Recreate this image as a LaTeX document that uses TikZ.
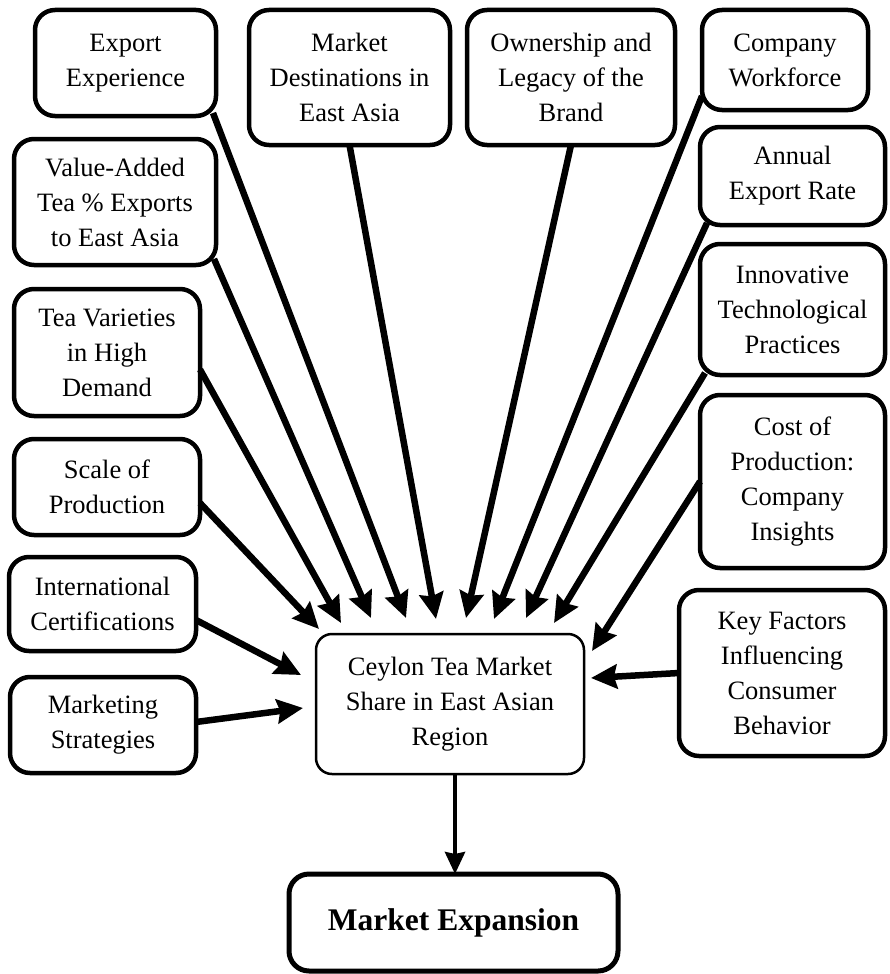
\documentclass[tikz,border=0pt]{standalone}
\usepackage{fontspec}
\setmainfont{Liberation Serif}
\usepackage{tikz}
\usetikzlibrary{arrows.meta, calc, positioning}

\begin{document}
\begin{tikzpicture}[
  x=1pt, y=-1pt,
  every node/.style={align=center, font=\fontsize{26.5}{35}\selectfont, outer sep=0pt},
  factor/.style={draw, line width=4.5pt, rounded corners=20pt},
  share/.style={draw, line width=2.5pt, rounded corners=16pt},
  goal/.style={draw, line width=5pt, rounded corners=20pt, font=\fontsize{31.5}{38}\selectfont\bfseries},
  feed/.style={line width=6.5pt, -{Stealth[length=26pt, width=24pt, inset=3pt]}},
  lead/.style={line width=4pt, -{Stealth[length=22pt, width=20pt, inset=2pt]}}
]
\useasboundingbox (0,0) rectangle (890,974);

% Top row
\node[factor, minimum width=181pt, minimum height=106pt] (exp) at (125.5,63) {Export\\Experience};
\node[factor, minimum width=201pt, minimum height=135pt] (mkt) at (349.5,77.5) {Market\\Destinations in\\East Asia};
\node[factor, minimum width=208pt, minimum height=135pt] (own) at (571,77.5) {Ownership and\\Legacy of the\\Brand};
\node[factor, minimum width=166pt, minimum height=100pt] (wrk) at (785,60) {Company\\Workforce};

% Left column
\node[factor, minimum width=202pt, minimum height=126pt] (val) at (115,202) {Value-Added\\Tea \% Exports\\to East Asia};
\node[factor, minimum width=186pt, minimum height=127pt] (var) at (107,352.5) {Tea Varieties\\in High\\Demand};
\node[factor, minimum width=186pt, minimum height=96pt] (scl) at (107,487) {Scale of\\Production};
\node[factor, minimum width=187pt, minimum height=94pt] (intl) at (102.5,604) {International\\Certifications};
\node[factor, minimum width=186pt, minimum height=96pt] (mrk) at (103,725) {Marketing\\Strategies};

% Right column
\node[factor, minimum width=185pt, minimum height=98pt] (ann) at (792.5,176) {Annual\\Export Rate};
\node[factor, minimum width=185pt, minimum height=131pt] (inn) at (792.5,309.5) {Innovative\\Technological\\Practices};
\node[factor, minimum width=185pt, minimum height=173pt] (cost) at (792.5,481.5) {Cost of\\Production:\\Company\\Insights};
\node[factor, minimum width=206pt, minimum height=166pt] (key) at (782,673) {Key Factors\\Influencing\\Consumer\\Behavior};

% Centre and result
\node[share, minimum width=268pt, minimum height=140pt] (ctr) at (450,704) {Ceylon Tea Market\\Share in East Asian\\Region};
\node[goal, minimum width=329pt, minimum height=97pt] (exn) at (453.5,922.5) {Market Expansion};

% Arrows into the centre
\draw[feed] ([yshift=-16pt]scl.east) -- ([xshift=3pt, yshift=5pt]ctr.north west);
\draw[feed] ([yshift=-17pt]var.east) -- ([xshift=25pt, yshift=11pt]ctr.north west);
\draw[feed] ([xshift=-2pt, yshift=6pt]val.south east) -- ([xshift=55pt, yshift=16pt]ctr.north west);
\draw[feed] ([xshift=-3pt, yshift=3pt]exp.south east) -- ([xshift=90pt, yshift=16pt]ctr.north west);
\draw[feed] (mkt.south) -- ([xshift=120pt, yshift=15pt]ctr.north west);
\draw[feed] (own.south) -- ([xshift=150pt, yshift=16pt]ctr.north west);
\draw[feed] ([yshift=14pt]wrk.south west) -- ([xshift=178pt, yshift=15pt]ctr.north west);
\draw[feed] ([xshift=7pt, yshift=2pt]ann.south west) -- ([xshift=210pt, yshift=16pt]ctr.north west);
\draw[feed] ([xshift=5pt, yshift=2pt]inn.south west) -- ([xshift=238pt, yshift=11pt]ctr.north west);
\draw[feed] (cost.west) -- ([xshift=8pt, yshift=-17pt]ctr.north east);
\draw[feed] (key.west) -- ([xshift=7pt, yshift=26pt]ctr.east);
\draw[feed] ([yshift=-16pt]intl.east) -- ([xshift=-15pt, yshift=29pt]ctr.west);
\draw[feed] ([yshift=3pt]mrk.east) -- ([xshift=-13pt, yshift=-4pt]ctr.west);

% Result
\draw[lead] ([xshift=5pt]ctr.south) -- ([xshift=5pt]ctr.south |- exn.north);
\end{tikzpicture}
\end{document}
